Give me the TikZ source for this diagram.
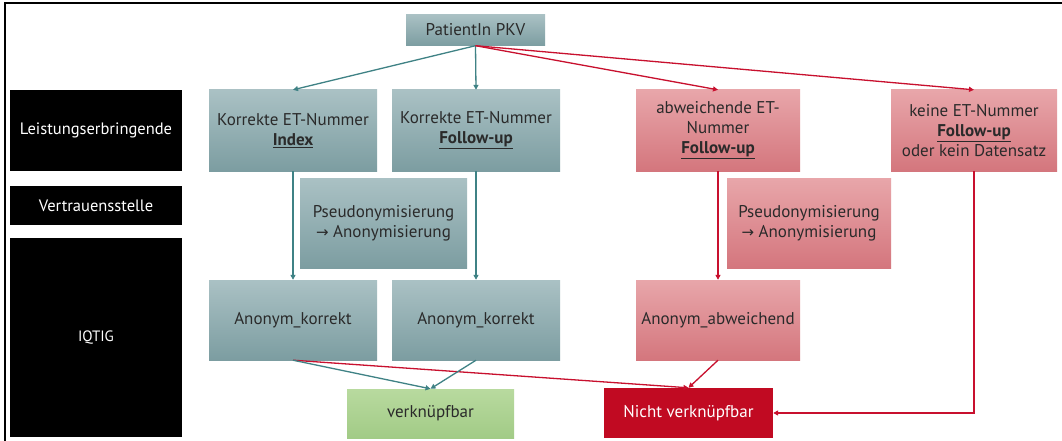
\documentclass[tikz,border=0pt]{standalone}
\usepackage{fontspec}
\setmainfont{PT Sans}
\newfontfamily\arrfont{DejaVu Sans}
\usetikzlibrary{arrows.meta}
\definecolor{tealtop}{HTML}{AAC1C4}
\definecolor{tealbot}{HTML}{7C9DA1}
\definecolor{redtop}{HTML}{E8A6AA}
\definecolor{redbot}{HTML}{D4767D}
\definecolor{greentop}{HTML}{B8DA9F}
\definecolor{greenbot}{HTML}{A2CB86}
\definecolor{darkred}{HTML}{C10A22}
\definecolor{tealline}{HTML}{3F8285}
\definecolor{redline}{HTML}{C8102E}
\definecolor{txt}{HTML}{2A2A2A}
\tikzset{
  box/.style={inner sep=2pt, align=center, text=txt, font=\fontsize{17}{20}\selectfont},
  tealbox/.style={box, top color=tealtop, bottom color=tealbot},
  redbox/.style={box, top color=redtop, bottom color=redbot},
  lanebox/.style={fill=black, text=white, align=center, minimum width=172pt, font=\fontsize{16.5}{20}\selectfont},
  tarr/.style={draw=tealline, line width=1.3pt, -{Triangle[length=5pt,width=5pt]}},
  rarr/.style={draw=redline, line width=1.3pt, -{Triangle[length=5pt,width=5pt]}},
}
\newcommand{\ul}[1]{\underline{\textbf{#1}}}
\begin{document}
\begin{tikzpicture}[x=1pt,y=-1pt]
\useasboundingbox (0,0) rectangle (1062,441);
\fill[white] (0,0) rectangle (1062,441);
\draw[line width=2pt] (1062,3) -- (5,3) -- (5,441);

% lanes
\node[lanebox, minimum height=81pt] (lb) at (96,130.5) {Leistungserbringende};
\node[lanebox, minimum height=39pt] (vs) at (96,205.5) {Vertrauensstelle};
\node[lanebox, minimum height=199pt, font=\fontsize{15}{18}\selectfont] (iq) at (96,337.5) {IQTIG};

% top
\node[tealbox, minimum width=139pt, minimum height=31pt] (pkv) at (475.5,30) {PatientIn PKV};

% row 1
\node[tealbox, minimum width=168pt, minimum height=81pt] (idx) at (293,130.5) {Korrekte ET-Nummer\\\ul{Index}};
\node[tealbox, minimum width=168pt, minimum height=81pt] (fu) at (476,130.5) {Korrekte ET-Nummer\\\ul{Follow-up}};
\node[redbox, minimum width=164pt, minimum height=81pt] (ab) at (718,130.5) {abweichende ET-\\Nummer\\\ul{Follow-up}};
\node[redbox, minimum width=166pt, minimum height=81pt] (ke) at (974,130.5) {keine ET-Nummer\\\ul{Follow-up}\\oder kein Datensatz};

% row 2
\node[tealbox, minimum width=167pt, minimum height=90pt] (ps1) at (383.5,223) {Pseudonymisierung\\{\arrfont\fontsize{15}{20}\selectfont →} Anonymisierung};
\node[redbox, minimum width=164pt, minimum height=90pt] (ps2) at (809,223) {Pseudonymisierung\\{\arrfont\fontsize{15}{20}\selectfont →} Anonymisierung};

% row 3
\node[tealbox, minimum width=168pt, minimum height=80pt] (ak1) at (293,320) {Anonym\_korrekt};
\node[tealbox, minimum width=168pt, minimum height=80pt] (ak2) at (476,320) {Anonym\_korrekt};
\node[redbox, minimum width=164pt, minimum height=80pt] (aa) at (718,320) {Anonym\_abweichend};

% results
\node[box, top color=greentop, bottom color=greenbot, minimum width=167pt, minimum height=49pt] (vk) at (430.5,413.5) {verknüpfbar};
\node[box, fill=darkred, text=white, minimum width=169pt, minimum height=50pt] (nv) at (688.5,413) {Nicht verknüpfbar};

% connectors
\draw[tarr] (pkv.south) -- (idx.north);
\draw[tarr] (pkv.south) -- (fu.north);
\draw[rarr] (pkv.south) -- (ab.north);
\draw[rarr] (pkv.south) -- (ke.north);

\draw[tarr] (idx.south) -- (ak1.north);
\draw[tarr] (fu.south) -- (ak2.north);
\draw[rarr] (ab.south) -- (aa.north);

\draw[rarr] (ak1.south) -- (nv.north);
\draw[tarr] (ak1.south) -- (vk.north);
\draw[tarr] (ak2.south) -- (vk.north);
\draw[rarr] (aa.south) -- (nv.north);
\draw[rarr] (ke.south) |- (nv.east);
\end{tikzpicture}
\end{document}
